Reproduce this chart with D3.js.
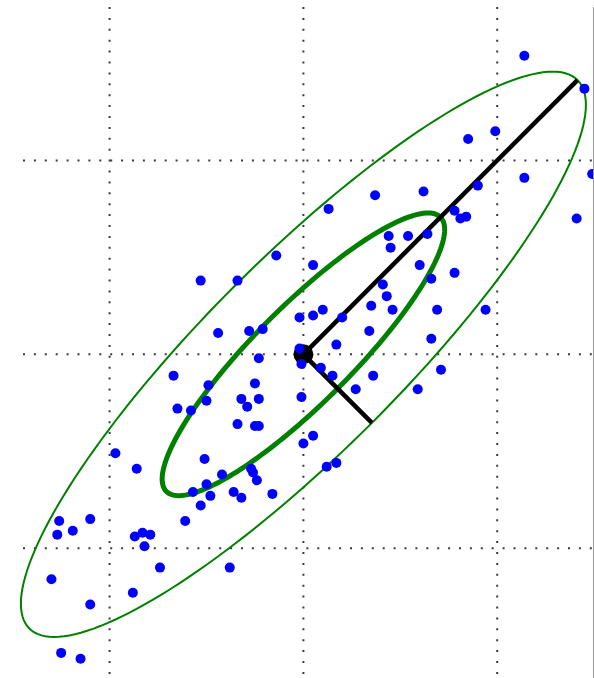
<!DOCTYPE html>
<html>
<head>
<meta charset="utf-8">
<script src="https://cdn.jsdelivr.net/npm/d3@7"></script>
<style>
  html, body { margin: 0; padding: 0; background: #fff; }
  svg { display: block; }
</style>
</head>
<body>
<div id="chart"></div>
<script>
// grid positions (data units)
const xTicks = [-1, 0, 1];
const yTicks = [-1, 0, 1];

// sample points
const pointsX = [
  1.14, 1.45, 0.85, 0.99, 0.62, 0.90, 1.14, 1.49, 0.78, 0.81,
  0.84, 1.41, 0.13, 0.37, 0.44, 0.45, -0.14, 0.05, -0.53, -0.34,
  0.41, 0.43, 0.35, 0.46, 0.10, 0.05, -0.02, 0.20, -0.44, -0.28,
  -0.21, 0.34, 0.17, -0.02, -0.01, -0.23, 0.09, 0.15, 0.36, 0.27,
  -0.49, -0.25, -0.50, -0.32, -0.29, -0.23, -0.01, -0.34, -0.25, -0.23,
  0.05, 0.00, 0.54, 0.64, 0.60, 0.66, 0.78, 0.69, 0.94, 0.66,
  0.71, 0.59, -0.67, -0.65, -0.58, -0.97, -0.86, -0.57, -1.26, -1.10,
  -1.27, -1.19, -0.61, -0.87, -0.83, -0.79, -0.82, -0.74, -1.30, -0.88,
  -1.10, -1.25, -1.15, -0.51, -0.42, -0.27, -0.26, -0.24, -0.50, -0.48,
  -0.36, -0.32, -0.16, -0.53, 0.12, 0.17, -0.38
];
const pointsY = [
  1.54, 1.37, 1.11, 1.15, 0.84, 0.87, 0.91, 0.93, 0.74, 0.70,
  0.71, 0.70, 0.75, 0.82, 0.61, 0.55, 0.51, 0.46, 0.38, 0.38,
  0.36, 0.30, 0.25, 0.23, 0.23, 0.20, 0.19, 0.19, 0.11, 0.12,
  0.13, 0.12, 0.05, 0.03, -0.05, -0.02, -0.07, -0.11, -0.11, -0.18,
  -0.16, -0.15, -0.24, -0.23, -0.27, -0.23, -0.22, -0.36, -0.37, -0.37,
  -0.42, -0.46, 0.61, 0.62, 0.46, 0.39, 0.42, 0.23, 0.23, 0.08,
  -0.08, -0.18, -0.11, -0.28, -0.29, -0.51, -0.59, -0.71, -0.86, -0.85,
  -0.93, -0.91, -0.86, -0.94, -0.92, -0.93, -0.99, -1.10, -1.16, -1.23,
  -1.29, -1.54, -1.57, -0.54, -0.62, -0.59, -0.61, -0.65, -0.67, -0.73,
  -0.71, -0.74, -0.72, -0.78, -0.58, -0.56, -1.10
];

// fitted gaussian: mean, principal axis angle, std along each axis
const mean = [0, 0];
const axisAngleDeg = 45;
const axisStd = [1, 0.25];
const ellipseSigmas = [1, 2];
const vectorSigma = 2;

const width = 594;
const height = 678;

const svg = d3.select('#chart').append('svg')
  .attr('width', width)
  .attr('height', height);

const x = d3.scaleLinear().domain([-1, 1]).range([109.6, 497.2]);
const y = d3.scaleLinear().domain([-1, 1]).range([548.2, 160.4]);

// plot area (left/top/bottom spines fall outside the crop)
const plot = { left: 22, top: 7, right: 593, bottom: 700 };

svg.append('clipPath').attr('id', 'clip')
  .append('rect')
  .attr('x', plot.left - 10)
  .attr('y', plot.top)
  .attr('width', plot.right - plot.left + 10)
  .attr('height', plot.bottom - plot.top);

// dotted grid
const grid = svg.append('g')
  .attr('stroke', '#3a3a3a')
  .attr('stroke-width', 2)
  .attr('stroke-dasharray', '2,8.9');

grid.selectAll('.gx').data(xTicks).join('line')
  .attr('x1', d => x(d)).attr('x2', d => x(d))
  .attr('y1', plot.top).attr('y2', plot.bottom);

grid.selectAll('.gy').data(yTicks).join('line')
  .attr('y1', d => y(d)).attr('y2', d => y(d))
  .attr('x1', plot.left + 1).attr('x2', plot.right);

// right spine
svg.append('line')
  .attr('x1', plot.right + 0.5).attr('x2', plot.right + 0.5)
  .attr('y1', plot.top).attr('y2', height)
  .attr('stroke', '#999')
  .attr('stroke-width', 1);

const g = svg.append('g').attr('clip-path', 'url(#clip)');

const rad = axisAngleDeg * Math.PI / 180;
const u = [Math.cos(rad), Math.sin(rad)];
const v = [-Math.sin(rad), Math.cos(rad)];

function ellipsePoints(k) {
  return d3.range(0, 361, 2).map(deg => {
    const t = deg * Math.PI / 180;
    const a = k * axisStd[0] * Math.cos(t);
    const b = k * axisStd[1] * Math.sin(t);
    return [mean[0] + a * u[0] + b * v[0], mean[1] + a * u[1] + b * v[1]];
  });
}

const line = d3.line().x(d => x(d[0])).y(d => y(d[1])).curve(d3.curveLinearClosed);

g.selectAll('.ell').data(ellipseSigmas).join('path')
  .attr('d', k => line(ellipsePoints(k)))
  .attr('fill', 'none')
  .attr('stroke', '#008000')
  .attr('stroke-width', k => k === 1 ? 5 : 2);

// principal axes
const vectors = [
  [mean[0] + vectorSigma * axisStd[0] * u[0], mean[1] + vectorSigma * axisStd[0] * u[1]],
  [mean[0] - vectorSigma * axisStd[1] * v[0], mean[1] - vectorSigma * axisStd[1] * v[1]]
];

g.selectAll('.vec').data(vectors).join('line')
  .attr('x1', x(mean[0])).attr('y1', y(mean[1]))
  .attr('x2', d => x(d[0])).attr('y2', d => y(d[1]))
  .attr('stroke', '#000')
  .attr('stroke-width', 4.5);

g.append('circle')
  .attr('cx', x(mean[0])).attr('cy', y(mean[1]))
  .attr('r', 10)
  .attr('fill', '#000');

g.selectAll('.pt').data(pointsX).join('circle')
  .attr('cx', d => x(d))
  .attr('cy', (d, i) => y(pointsY[i]))
  .attr('r', 5)
  .attr('fill', '#0000ff');
</script>
</body>
</html>
